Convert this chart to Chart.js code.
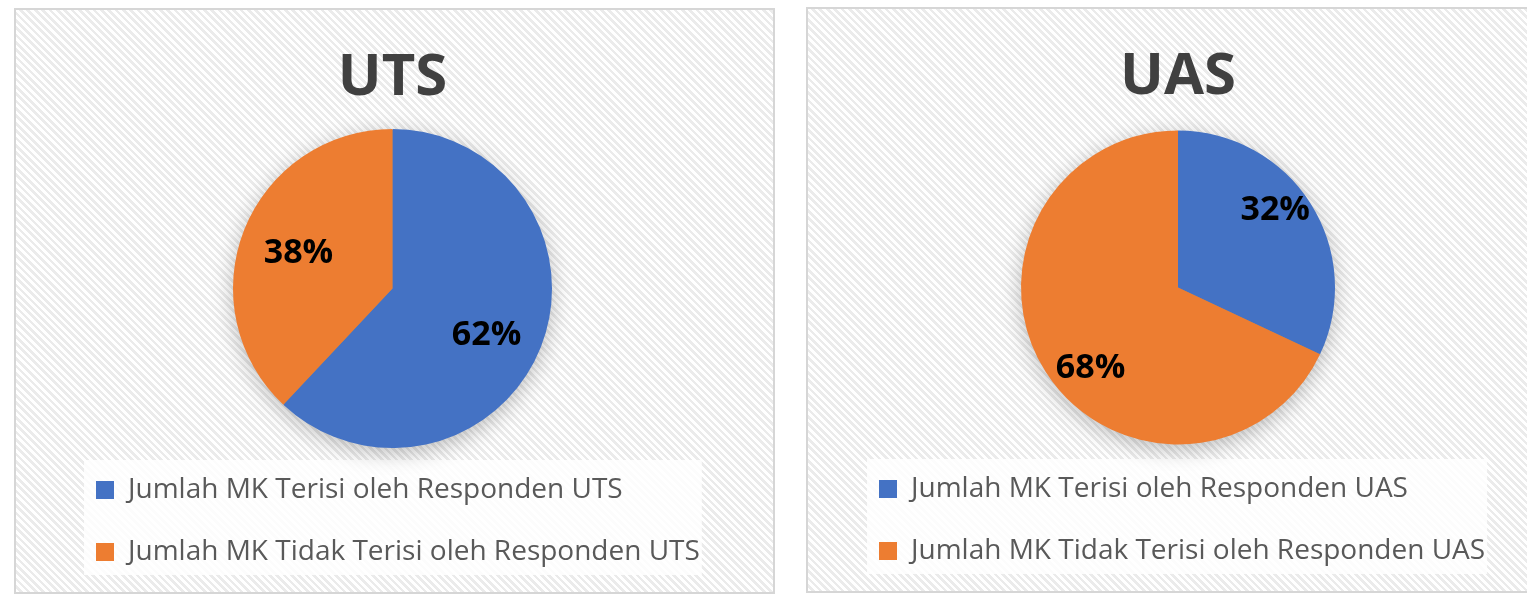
<!DOCTYPE html>
<html>
<head>
<meta charset="utf-8">
<script src="https://cdn.jsdelivr.net/npm/chart.js@4.4.1/dist/chart.umd.min.js"></script>
<style>
  html, body { margin: 0; padding: 0; background: #fff; width: 1527px; height: 594px; overflow: hidden; }
  .panel {
    position: absolute;
    width: 757px;
    height: 582px;
    border: 2px solid #d6d6d6;
    background: repeating-linear-gradient(45deg, #ffffff 0 2.6px, #ebebeb 2.6px 5.2px);
  }
  #p-uts { left: 14px; top: 8px; }
  #p-uas { left: 806px; top: 7px; }
  .panel canvas { position: absolute; left: 0; top: 0; }
</style>
</head>
<body>
<div class="panel" id="p-uts"><canvas id="chart-uts" width="757" height="582"></canvas></div>
<div class="panel" id="p-uas"><canvas id="chart-uas" width="757" height="582"></canvas></div>
<script>
// data
const UTS_TITLE  = "UTS";
const UTS_LABELS = ["Jumlah MK Terisi oleh Responden UTS", "Jumlah MK Tidak Terisi oleh Responden UTS"];
const UTS_VALUES = [62, 38];

const UAS_TITLE  = "UAS";
const UAS_LABELS = ["Jumlah MK Terisi oleh Responden UAS", "Jumlah MK Tidak Terisi oleh Responden UAS"];
const UAS_VALUES = [32, 68];

const SLICE_COLORS = ["#4472C4", "#ED7D31"];
const TITLE_COLOR  = "#404040";
const LEGEND_COLOR = "#595959";

// soft shadow under the pie: a disc drawn before the arcs
const pieShadow = {
  id: "pieShadow",
  beforeDatasetsDraw(chart) {
    const arc = chart.getDatasetMeta(0).data[0];
    if (!arc) return;
    const ctx = chart.ctx;
    ctx.save();
    ctx.shadowColor = "rgba(0,0,0,0.28)";
    ctx.shadowBlur = 22;
    ctx.shadowOffsetY = 5;
    ctx.fillStyle = "#888";
    ctx.beginPath();
    ctx.arc(arc.x, arc.y, arc.outerRadius - 1, 0, Math.PI * 2);
    ctx.fill();
    ctx.restore();
  },
};

// percentage labels inside the slices (placement tweaks per slice, like Excel's best fit)
const pctLabels = {
  id: "pctLabels",
  afterDatasetsDraw(chart, args, opts) {
    const meta = chart.getDatasetMeta(0);
    const vals = chart.data.datasets[0].data;
    const total = vals.reduce((s, v) => s + v, 0);
    const ctx = chart.ctx;
    ctx.save();
    ctx.font = "700 34px 'Open Sans', sans-serif";
    ctx.fillStyle = "#000";
    ctx.textAlign = "center";
    ctx.textBaseline = "middle";
    meta.data.forEach((arc, i) => {
      const mid = (arc.startAngle + arc.endAngle) / 2 + (opts.shift[i] * Math.PI / 180);
      const r = arc.outerRadius * opts.frac[i];
      ctx.fillText(Math.round(vals[i] / total * 100) + "%", arc.x + Math.cos(mid) * r, arc.y + Math.sin(mid) * r);
    });
    ctx.restore();
  },
};

// whitish box behind the legend
const legendBg = {
  id: "legendBg",
  beforeDraw(chart) {
    const lg = chart.legend;
    if (!lg || !lg.lineWidths) return;
    const pad = lg.options.labels.padding;
    const widest = Math.max(...lg.lineWidths) - pad;
    const ctx = chart.ctx;
    ctx.save();
    ctx.fillStyle = "rgba(255,255,255,0.82)";
    const x0 = lg.left + pad - 12;
    ctx.fillRect(x0, lg.top + 18, widest + 14, lg.bottom - lg.top - 19);
    ctx.restore();
  },
};

function createPie(canvasId, title, labels, values, style) {
  const canvas = document.getElementById(canvasId);
  return new Chart(canvas, {
    type: "pie",
    plugins: [pieShadow, legendBg, pctLabels],
    data: {
      labels,
      datasets: [{
        data: values,
        backgroundColor: SLICE_COLORS,
        borderWidth: 0,
        radius: style.radius,
      }],
    },
    options: {
      responsive: false,
      animation: false,
      layout: { padding: { left: style.padLeft, right: style.padRight, top: 0, bottom: 16 } },
      plugins: {
        title: {
          display: true,
          text: title,
          color: TITLE_COLOR,
          font: { family: "'Open Sans', sans-serif", size: 58, weight: "700" },
          padding: { top: 33.7, bottom: 21.7 },
        },
        legend: {
          position: "bottom",
          align: "start",
          labels: {
            color: LEGEND_COLOR,
            font: { family: "'Open Sans', sans-serif", size: 28 },
            boxWidth: 18,
            boxHeight: 18,
            padding: 34,
          },
        },
        tooltip: { enabled: false },
        pctLabels: { frac: style.labelFrac, shift: style.labelShift },
      },
    },
  });
}

createPie("chart-uts", UTS_TITLE, UTS_LABELS, UTS_VALUES,
  { radius: 159.5, padLeft: 46, padRight: 50, labelFrac: [0.66, 0.63], labelShift: [5, -1] });
createPie("chart-uas", UAS_TITLE, UAS_LABELS, UAS_VALUES,
  { radius: 157, padLeft: 37, padRight: 54, labelFrac: [0.79, 0.76], labelShift: [-6, -10.5] });
</script>
</body>
</html>
